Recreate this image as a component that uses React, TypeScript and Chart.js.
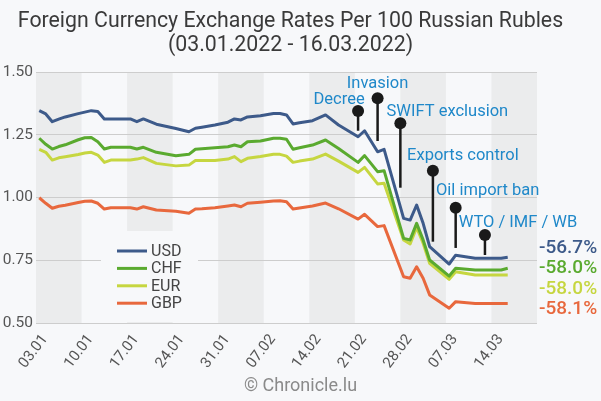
import React, { useEffect, useRef } from 'react';
import { Chart, registerables } from 'chart.js';

Chart.register(...registerables);

// days counted from 03.01.2022
const weekLabels = ['03.01', '10.01', '17.01', '24.01', '31.01', '07.02', '14.02', '21.02', '28.02', '07.03', '14.03'];
const tradingDays = [
    0, 1, 2, 3, 4, 6, 7, 8, 9, 10, 11, 14, 15, 16, 18, 21, 23, 24, 25, 27, 29, 30, 31, 32,
    34, 36, 37, 38, 39, 40, 42, 44, 46, 49, 50, 52, 53, 56, 57, 58, 59, 60, 63, 64, 67, 71, 72,
];

const usd = [
    1.346, 1.333, 1.302, 1.312, 1.321, 1.334, 1.340, 1.346, 1.343, 1.313, 1.313, 1.313, 1.302, 1.313, 1.292,
    1.275, 1.262, 1.276, 1.280, 1.289, 1.300, 1.313, 1.309, 1.321, 1.326, 1.335, 1.335, 1.329, 1.293, 1.298,
    1.306, 1.329, 1.289, 1.242, 1.266, 1.182, 1.192, 0.917, 0.910, 0.970, 0.897, 0.804, 0.735, 0.770, 0.758,
    0.758, 0.762,
];
const chf = [
    1.236, 1.212, 1.193, 1.203, 1.210, 1.230, 1.238, 1.239, 1.222, 1.193, 1.200, 1.200, 1.193, 1.200, 1.180,
    1.166, 1.172, 1.192, 1.194, 1.198, 1.202, 1.209, 1.202, 1.222, 1.225, 1.236, 1.236, 1.232, 1.192, 1.198,
    1.209, 1.229, 1.195, 1.140, 1.167, 1.103, 1.107, 0.837, 0.831, 0.897, 0.831, 0.751, 0.687, 0.718, 0.711,
    0.711, 0.718,
];
const eur = [
    1.192, 1.180, 1.149, 1.158, 1.162, 1.171, 1.177, 1.180, 1.169, 1.140, 1.149, 1.149, 1.153, 1.159, 1.136,
    1.126, 1.129, 1.147, 1.147, 1.147, 1.153, 1.163, 1.143, 1.156, 1.163, 1.172, 1.172, 1.165, 1.140, 1.145,
    1.153, 1.173, 1.145, 1.100, 1.120, 1.054, 1.057, 0.831, 0.815, 0.881, 0.818, 0.738, 0.674, 0.704, 0.691,
    0.691, 0.691,
];
const gbp = [
    0.999, 0.977, 0.957, 0.965, 0.969, 0.980, 0.985, 0.986, 0.977, 0.954, 0.959, 0.959, 0.954, 0.963, 0.950,
    0.945, 0.937, 0.954, 0.955, 0.959, 0.966, 0.970, 0.963, 0.977, 0.981, 0.986, 0.987, 0.983, 0.954, 0.958,
    0.966, 0.978, 0.955, 0.914, 0.933, 0.884, 0.888, 0.684, 0.678, 0.724, 0.678, 0.612, 0.559, 0.585, 0.578,
    0.578, 0.578,
];

const currencies = ['USD', 'CHF', 'EUR', 'GBP'];
const changes = ['-56.7%', '-58.0%', '-58.0%', '-58.1%'];

const events = ['Decree', 'Invasion', 'SWIFT exclusion', 'Exports control', 'Oil import ban', 'WTO / IMF / WB'];
const eventDays = [49.5, 52.5, 56, 61, 64.5, 69];
const pinTops = [1.345, 1.395, 1.296, 1.107, 0.959, 0.851];
const pinBottoms = [1.266, 1.225, 1.039, 0.824, 0.799, 0.771];

const COLORS = ['#3d5a8a', '#5aaa2f', '#c6d640', '#e8683d'];
const BG = '#f7f8fa';
const BAND = '#ebeced';
const LABEL_BLUE = '#1f88c9';
// text placement around each pin (px): centre offset x, baseline offset y
const eventText = [
    { dx: -19, dy: -7 },
    { dx: 0, dy: -10 },
    { dx: 47, dy: -7 },
    { dx: 30, dy: -11 },
    { dx: 32, dy: -13 },
    { dx: 33, dy: -8 },
];

const series = [usd, chf, eur, gbp];

const App: React.FC = () => {
    const canvasRef = useRef<HTMLCanvasElement | null>(null);
    const chartRef = useRef<Chart | null>(null);

    useEffect(() => {
        if (!canvasRef.current) return;
        const ctx = canvasRef.current.getContext('2d');
        if (!ctx) return;
        if (chartRef.current) chartRef.current.destroy();

        Chart.defaults.font.family = 'Roboto';

        const bandsPlugin = {
            id: 'weekBands',
            beforeDraw: (chart: Chart) => {
                const { ctx, chartArea: { top, bottom, right }, scales: { x } } = chart;
                ctx.save();
                ctx.fillStyle = BAND;
                weekLabels.forEach((_, i) => {
                    if (i % 2 !== 0) return;
                    const x0 = x.getPixelForValue(i * 7);
                    const x1 = Math.min(x.getPixelForValue(i * 7 + 7), right);
                    ctx.fillRect(x0, top, x1 - x0, bottom - top);
                });
                ctx.restore();
            },
        };

        const legendPlugin = {
            id: 'innerLegend',
            beforeDatasetsDraw: (chart: Chart) => {
                const { ctx, chartArea: { left, bottom } } = chart;
                ctx.save();
                ctx.fillStyle = BG;
                ctx.fillRect(left + 65, bottom - 92, 97, 91);
                ctx.font = '16px Roboto';
                ctx.textBaseline = 'middle';
                ctx.textAlign = 'left';
                currencies.forEach((c, i) => {
                    const yy = bottom - 72 + i * 17.4;
                    ctx.strokeStyle = COLORS[i];
                    ctx.lineWidth = 3;
                    ctx.beginPath();
                    ctx.moveTo(left + 81, yy);
                    ctx.lineTo(left + 111, yy);
                    ctx.stroke();
                    ctx.fillStyle = '#444';
                    ctx.fillText(c, left + 115, yy + 1);
                });
                ctx.restore();
            },
        };

        const eventsPlugin = {
            id: 'events',
            afterDatasetsDraw: (chart: Chart) => {
                const { ctx, scales: { x, y } } = chart;
                ctx.save();
                events.forEach((label, i) => {
                    const px = x.getPixelForValue(eventDays[i]);
                    const yTop = y.getPixelForValue(pinTops[i]);
                    const yBot = y.getPixelForValue(pinBottoms[i]);
                    ctx.strokeStyle = '#1a1a1a';
                    ctx.lineWidth = 2.5;
                    ctx.beginPath();
                    ctx.moveTo(px, yTop);
                    ctx.lineTo(px, yBot);
                    ctx.stroke();
                    ctx.fillStyle = '#1a1a1a';
                    ctx.beginPath();
                    ctx.arc(px, yTop, 6, 0, Math.PI * 2);
                    ctx.fill();
                    ctx.fillStyle = LABEL_BLUE;
                    ctx.font = '16.5px Roboto';
                    ctx.textAlign = 'center';
                    ctx.textBaseline = 'alphabetic';
                    ctx.fillText(label, px + eventText[i].dx, yTop + eventText[i].dy);
                });
                ctx.restore();
            },
        };

        const textPlugin = {
            id: 'texts',
            afterDraw: (chart: Chart) => {
                const { ctx, width, chartArea: { right }, scales: { y } } = chart;
                ctx.save();
                ctx.fillStyle = '#3a3a3a';
                ctx.font = '21.3px Roboto';
                ctx.textAlign = 'center';
                ctx.textBaseline = 'alphabetic';
                ctx.fillText('Foreign Currency Exchange Rates Per 100 Russian Rubles', 290.5, 27);
                ctx.fillText('(03.01.2022 - 16.03.2022)', 290.5, 51);

                ctx.fillStyle = '#8a8a8a';
                ctx.font = '18px Roboto';
                ctx.fillText('\u00A9 Chronicle.lu', width / 2, 391);

                ctx.font = '500 19px Roboto';
                ctx.textAlign = 'left';
                ctx.textBaseline = 'middle';
                let prev = -Infinity;
                series.forEach((s, i) => {
                    const ideal = y.getPixelForValue(s[s.length - 1]);
                    const yy = i === 0 ? ideal - 9 : Math.max(ideal, prev + 20.3);
                    prev = yy;
                    ctx.fillStyle = COLORS[i];
                    ctx.fillText(changes[i], right + 2, yy);
                });
                ctx.restore();
            },
        };

        chartRef.current = new Chart(ctx, {
            type: 'line',
            data: {
                datasets: series.map((s, i) => ({
                    label: currencies[i],
                    data: s.map((v, j) => ({ x: tradingDays[j] + 0.5, y: v })),
                    borderColor: COLORS[i],
                    borderWidth: 3,
                    borderJoinStyle: 'round' as const,
                    pointRadius: 0,
                    tension: 0,
                    fill: false,
                })),
            },
            plugins: [bandsPlugin, legendPlugin, eventsPlugin, textPlugin],
            options: {
                responsive: true,
                maintainAspectRatio: false,
                animation: false,
                layout: { padding: { top: 72, right: 64, bottom: 0, left: 0 } },
                scales: {
                    x: {
                        type: 'linear',
                        min: 0,
                        max: 77,
                        afterBuildTicks: (scale: any) => {
                            scale.ticks = weekLabels.map((_, i) => ({ value: i * 7 }));
                        },
                        afterFit: (scale: any) => {
                            scale.height = 78;
                        },
                        grid: { display: false },
                        border: { display: false },
                        ticks: {
                            autoSkip: false,
                            minRotation: 53,
                            maxRotation: 53,
                            padding: 0,
                            labelOffset: 9,
                            color: '#555',
                            font: { size: 15 },
                            callback: (value: any) => weekLabels[Math.round(Number(value) / 7)] ?? '',
                        },
                    },
                    y: {
                        min: 0.5,
                        max: 1.5,
                        afterFit: (scale: any) => {
                            scale.width = 36;
                        },
                        grid: { color: '#cdcdcd', drawTicks: false, lineWidth: 1 },
                        border: { display: false },
                        ticks: {
                            stepSize: 0.25,
                            padding: 3,
                            color: '#555',
                            font: { size: 15.5 },
                            callback: (value: any) => Number(value).toFixed(2),
                        },
                    },
                },
                plugins: {
                    legend: { display: false },
                    tooltip: { enabled: false },
                    title: { display: false },
                },
            },
        });

        return () => {
            if (chartRef.current) {
                chartRef.current.destroy();
                chartRef.current = null;
            }
        };
    }, []);

    return (
        <div style={{ position: 'fixed', left: 0, top: 0, width: 601, height: 401, background: BG }}>
            <canvas ref={canvasRef}></canvas>
        </div>
    );
};

export default App;
